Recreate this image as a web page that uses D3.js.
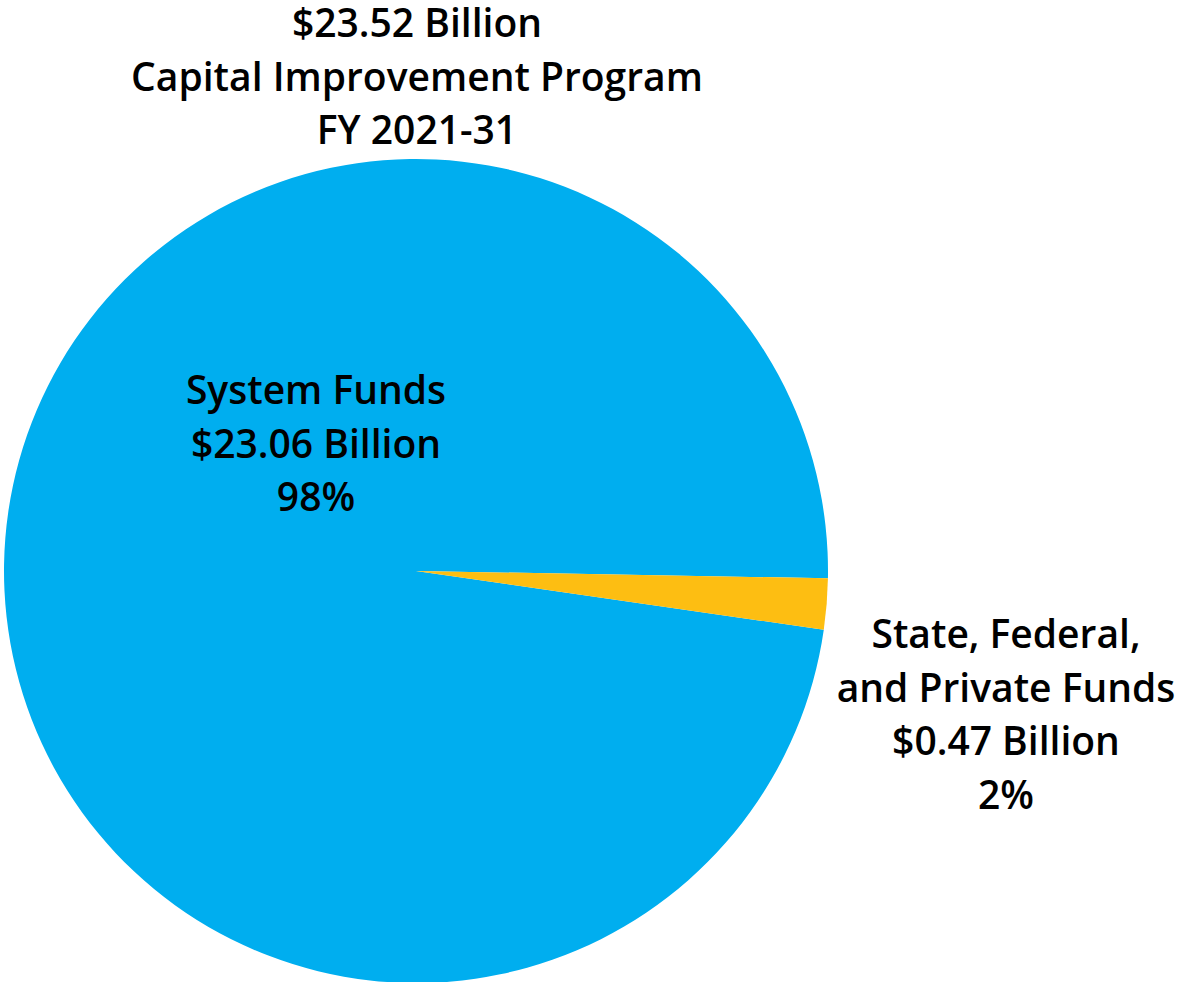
<!DOCTYPE html>
<html>
<head>
<meta charset="utf-8">
<script src="https://cdn.jsdelivr.net/npm/d3@7"></script>
<style>
  html, body { margin: 0; padding: 0; background: #ffffff; }
  svg { display: block; }
  text { font-family: "Open Sans", Lato, sans-serif; font-weight: 600; fill: #000; }
</style>
</head>
<body>
<svg id="chart" width="1178" height="982"></svg>
<script>
// Funding sources, in $ billions
const categories = ["System Funds", "State, Federal, and Private Funds"];
const values = [23.06, 0.47];
const percents = ["98%", "2%"];
const colors = ["#00aeef", "#fdbe12"];

const titleLines = ["$23.52 Billion", "Capital Improvement Program", "FY 2021-31"];
const labelLines = [
  ["System Funds", "$23.06 Billion", "98%"],
  ["State, Federal,", "and Private Funds", "$0.47 Billion", "2%"]
];

const width = 1178, height = 982;
const cx = 416, cy = 571, radius = 412;
const fontSize = 39, lineGap = 53.5;

const svg = d3.select("#chart");

const startDeg = 98.2;
const pie = d3.pie()
  .sort(null)
  .value(d => d.value)
  .startAngle(startDeg * Math.PI / 180)
  .endAngle((startDeg + 360) * Math.PI / 180);

const data = categories.map((c, i) => ({ name: c, value: values[i], color: colors[i] }));
const arcs = pie(data);

const arc = d3.arc().innerRadius(0).outerRadius(radius);

svg.append("g")
  .attr("transform", `translate(${cx},${cy})`)
  .selectAll("path")
  .data(arcs)
  .join("path")
  .attr("d", arc)
  .attr("fill", d => d.data.color);

// Title block above the pie
svg.append("text")
  .attr("x", 417)
  .attr("y", 37)
  .attr("text-anchor", "middle")
  .style("font-size", fontSize + "px")
  .selectAll("tspan")
  .data(titleLines)
  .join("tspan")
  .attr("x", 417)
  .attr("dy", (d, i) => i === 0 ? 0 : lineGap)
  .text(d => d);

// Slice labels
const labelPos = [
  { x: 316, y: 404 },
  { x: 1006, y: 648 }
];

labelLines.forEach((lines, k) => {
  svg.append("text")
    .attr("x", labelPos[k].x)
    .attr("y", labelPos[k].y)
    .attr("text-anchor", "middle")
    .style("font-size", fontSize + "px")
    .selectAll("tspan")
    .data(lines)
    .join("tspan")
    .attr("x", labelPos[k].x)
    .attr("dy", (d, i) => i === 0 ? 0 : lineGap)
    .text(d => d);
});
</script>
</body>
</html>
